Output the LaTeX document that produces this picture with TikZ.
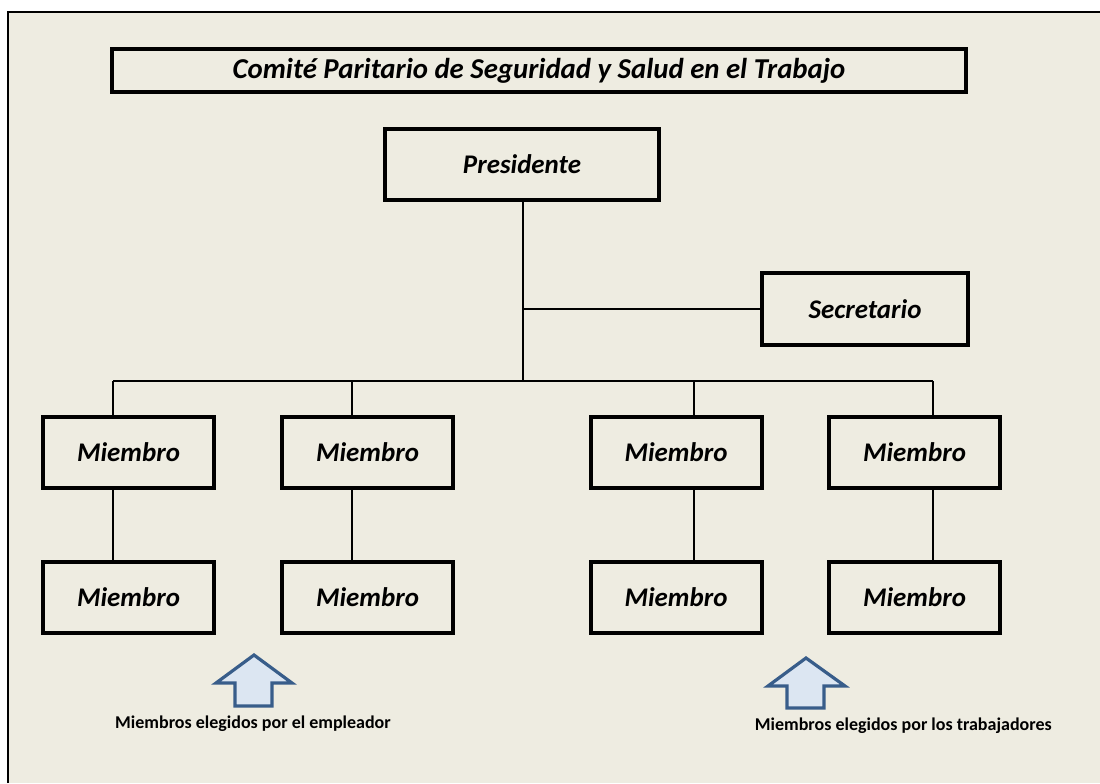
\documentclass[tikz,border=0pt]{standalone}
\usepackage{fontspec}
\setmainfont{Carlito}
\definecolor{bgtan}{HTML}{EEECE1}
\definecolor{arrowfill}{HTML}{DCE6F2}
\definecolor{arrowline}{HTML}{385D8A}
\begin{document}
\begin{tikzpicture}[x=0.75pt,y=-0.75pt,
  box/.style={draw=black,line width=3pt,fill=bgtan,inner sep=0pt,
    font=\fontsize{20.2}{24}\selectfont\bfseries\itshape},
  conn/.style={draw=black,line width=1.5pt},
  uparrow/.style={fill=arrowfill,draw=arrowline,line width=2.4pt,line join=miter},
  lbl/.style={font=\fontsize{13.5}{16}\selectfont\bfseries,inner sep=0pt}]
\useasboundingbox (0,0) rectangle (1100,783);
\fill[bgtan] (8,12) rectangle (1100,783);
\draw[line width=1.6pt] (8,783) -- (8,12) -- (1100,12);

% title
\node[box,minimum width=640.5pt,minimum height=32.25pt,font=\fontsize{21.6}{24}\selectfont\bfseries\itshape] (title) at (539,70.5) {Comité Paritario de Seguridad y Salud en el Trabajo};

% president & secretary
\node[box,minimum width=205.5pt,minimum height=53.25pt] (pres) at (522,164.5) {Presidente};
\node[box,minimum width=154.5pt,minimum height=54pt] (sec) at (865,309) {Secretario};

% members
\foreach \n/\cx/\cy in {m1/128.5/452.5, m2/367.5/452.5, m3/676/452.5, m4/914.5/452.5,
                        m5/128.5/597.5, m6/367.5/597.5, m7/676/597.5, m8/914.5/597.5}
  \node[box,minimum width=128.25pt,minimum height=53.25pt] (\n) at (\cx,\cy) {Miembro};

% connector coordinates
\coordinate (trunk) at (523,381);
\coordinate (secj) at (523,309);
\coordinate (d1) at (113,381);
\coordinate (d2) at (352,381);
\coordinate (d3) at (694,381);
\coordinate (d4) at (933,381);

\draw[conn] (pres.south -| trunk) -- (trunk);
\draw[conn] (secj) -- (sec.west);
\draw[conn] (d1) -- (d4);
\draw[conn] (d1) -- (m1.north -| d1);
\draw[conn] (d2) -- (m2.north -| d2);
\draw[conn] (d3) -- (m3.north -| d3);
\draw[conn] (d4) -- (m4.north -| d4);
\draw[conn] (m1.south -| d1) -- (m5.north -| d1);
\draw[conn] (m2.south -| d2) -- (m6.north -| d2);
\draw[conn] (m3.south -| d3) -- (m7.north -| d3);
\draw[conn] (m4.south -| d4) -- (m8.north -| d4);

% up arrows
\draw[uparrow] (254,655) -- (292,683) -- (272,683) -- (272,706) -- (235,706) -- (235,683) -- (216,683) -- cycle;
\draw[uparrow] (806,658) -- (845,686) -- (824,686) -- (824,708) -- (787,708) -- (787,686) -- (768,686) -- cycle;

% labels
\node[lbl] (lab1) at (253,724) {Miembros elegidos por el empleador};
\node[lbl,anchor=east] (lab2) at (1052,726) {Miembros elegidos por los trabajadores};
\end{tikzpicture}
\end{document}
